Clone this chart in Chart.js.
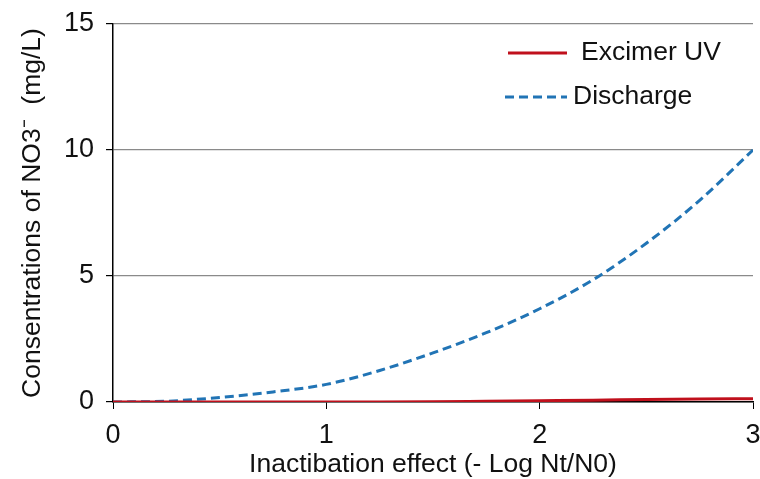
<!DOCTYPE html>
<html>
<head>
<meta charset="utf-8">
<script src="https://cdn.jsdelivr.net/npm/chart.js@4"></script>
<style>
  html, body { margin: 0; padding: 0; background: #fff; }
  #wrap { width: 760px; height: 479px; position: relative; }
</style>
</head>
<body>
<div id="wrap"><canvas id="chart"></canvas></div>
<script>
Chart.defaults.font.family = "'Liberation Sans', Arial, sans-serif";
Chart.defaults.color = '#111';

// values
const xValues = [0, 0.25, 0.5, 0.75, 1, 1.25, 1.5, 1.75, 2, 2.25, 2.5, 2.75, 3];
const excimerUV = [0, 0, 0, 0, 0, 0, 0.01, 0.03, 0.05, 0.07, 0.1, 0.12, 0.13];
const discharge = [0, 0.03, 0.18, 0.4, 0.7, 1.25, 1.95, 2.75, 3.7, 4.85, 6.3, 8.0, 10.0];
const yTicks = [0, 5, 10, 15];
const xTicks = [0, 1, 2, 3];

const toPoints = arr => arr.map((v, i) => ({ x: xValues[i], y: v }));

// legend drawn inside the plot area, top right
const insideLegend = {
    id: 'insideLegend',
    afterDraw(chart) {
        const ctx = chart.ctx;
        const a = chart.chartArea;
        const rows = [
            { ds: chart.data.datasets[0], y: a.top + 29, x0: a.right - 245, x1: a.right - 186, tx: a.right - 172 },
            { ds: chart.data.datasets[1], y: a.top + 73, x0: a.right - 248, x1: a.right - 186, tx: a.right - 180 }
        ];
        ctx.save();
        ctx.font = "26.5px 'Liberation Sans', Arial, sans-serif";
        ctx.textBaseline = 'middle';
        rows.forEach(r => {
            ctx.beginPath();
            ctx.strokeStyle = r.ds.borderColor;
            ctx.lineWidth = r.ds.borderWidth;
            ctx.setLineDash(r.ds.borderDash || []);
            ctx.moveTo(r.x0, r.y);
            ctx.lineTo(r.x1, r.y);
            ctx.stroke();
            ctx.setLineDash([]);
            ctx.fillStyle = '#111';
            ctx.fillText(r.ds.label, r.tx, r.y);
        });
        ctx.restore();
    }
};

new Chart(document.getElementById('chart'), {
    type: 'line',
    data: {
        datasets: [
            { label: 'Excimer UV', data: toPoints(excimerUV), borderColor: '#c0101c', borderWidth: 3, pointRadius: 0, cubicInterpolationMode: 'monotone' },
            { label: 'Discharge', data: toPoints(discharge), borderColor: '#2174b5', borderWidth: 3, borderDash: [9, 5], pointRadius: 0, cubicInterpolationMode: 'monotone' }
        ]
    },
    options: {
        responsive: true,
        maintainAspectRatio: false,
        animation: false,
        layout: { padding: { top: 24, right: 7, left: 0, bottom: 0 } },
        plugins: { legend: { display: false }, tooltip: { enabled: false } },
        scales: {
            x: {
                type: 'linear', min: 0, max: 3,
                afterBuildTicks: s => { s.ticks = xTicks.map(v => ({ value: v })); },
                afterFit: s => { s.height = 77; s.paddingLeft = 0; s.paddingRight = 0; },
                grid: { drawOnChartArea: false, tickLength: 7, tickColor: '#000' },
                border: { color: '#000', width: 1.5 },
                ticks: { font: { size: 27 }, padding: 10 },
                title: { display: true, text: 'Inactibation effect (- Log Nt/N0)', font: { size: 26.5 }, padding: { top: 0, bottom: -2 } }
            },
            y: {
                min: 0, max: 15,
                afterBuildTicks: s => { s.ticks = yTicks.map(v => ({ value: v })); },
                afterFit: s => { s.width = 113; s.paddingTop = 0; s.paddingBottom = 0; },
                grid: { color: '#8a8a8a', lineWidth: 1.2, tickLength: 7, tickColor: '#000' },
                border: { color: '#000', width: 1.5 },
                ticks: { font: { size: 27 }, padding: 12 },
                title: { display: true, text: 'Consentrations of NO3\u207B  (mg/L)', font: { size: 26.5 }, padding: { top: 17, bottom: 0 } }
            }
        }
    },
    plugins: [insideLegend]
});
</script>
</body>
</html>
